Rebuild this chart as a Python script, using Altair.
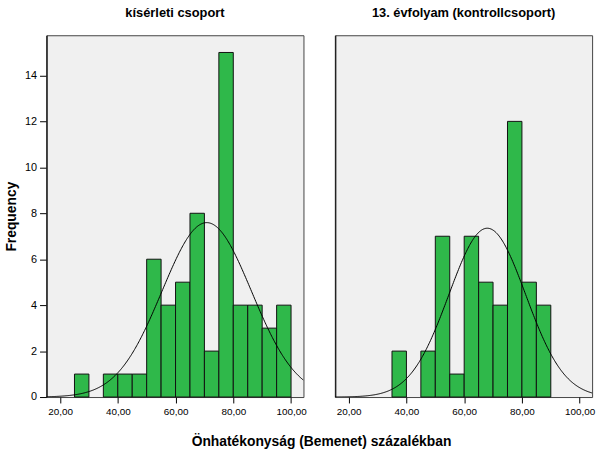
import altair as alt
import pandas as pd

# ---- data ----
bin_width = 5
groups = ["kísérleti csoport", "13. évfolyam (kontrollcsoport)"]

exp_bin_start = [25, 35, 40, 45, 50, 55, 60, 65, 70, 75, 80, 85, 90, 95]
exp_counts    = [1, 1, 1, 1, 6, 4, 5, 8, 2, 15, 4, 4, 3, 4]

ctl_bin_start = [35, 45, 50, 55, 60, 65, 70, 75, 80, 85]
ctl_counts    = [2, 2, 7, 1, 7, 5, 4, 12, 5, 4]

# fitted normal curve parameters
exp_mean, exp_sd = 70.8, 15.5
ctl_mean, ctl_sd = 68.0, 13.3

x_ticks = [20, 40, 60, 80, 100]
y_ticks = [0, 2, 4, 6, 8, 10, 12, 14]
x_domain = [15.3, 104.3]
y_domain = [0, 15.75]

FONT = "Liberation Sans"
GREEN = "#2fb84a"
W, H = 260, 366


def panel(title, starts, counts, mean, sd, show_y):
    n = sum(counts)
    df = pd.DataFrame({"start": starts, "count": counts})
    df["end"] = df["start"] + bin_width

    xscale = alt.Scale(domain=x_domain, nice=False, zero=False)
    yscale = alt.Scale(domain=y_domain, nice=False)
    xaxis = alt.Axis(values=x_ticks, title=None, grid=False,
                     labelExpr="replace(format(datum.value, '.2f'), '.', ',')",
                     labelFont=FONT, labelFontSize=10, labelColor="#000",
                     tickSize=6, tickColor="#000", domain=False, labelPadding=4)
    if show_y:
        yaxis = alt.Axis(values=y_ticks, title="Frequency", grid=False,
                         labelFont=FONT, labelFontSize=11, labelColor="#000",
                         tickSize=7, tickColor="#000", domain=True, domainColor="#222",
                         domainWidth=1.5, labelPadding=3,
                         titleFont=FONT, titleFontSize=14, titleFontWeight="bold",
                         titleColor="#000", titlePadding=6)
    else:
        yaxis = alt.Axis(values=y_ticks, title=None, grid=False, labels=False,
                         ticks=False, domain=True, domainColor="#222", domainWidth=1.5)

    bars = alt.Chart(df).mark_rect(color=GREEN, stroke="#111", strokeWidth=1).encode(
        x=alt.X("start:Q", scale=xscale, axis=xaxis),
        x2="end:Q",
        y=alt.Y("count:Q", scale=yscale, axis=yaxis),
        y2=alt.datum(0),
    )

    curve = alt.Chart(alt.sequence(x_domain[0], x_domain[1] + 0.01, 0.25, as_="x")).transform_calculate(
        y=f"{n}*{bin_width}*exp(-0.5*pow((datum.x-{mean})/{sd},2))/({sd}*sqrt(2*PI))"
    ).mark_line(color="#000", strokeWidth=1, clip=True).encode(
        x=alt.X("x:Q", scale=xscale),
        y=alt.Y("y:Q", scale=yscale),
    )

    return alt.layer(bars, curve).properties(
        width=W, height=H,
        title=alt.TitleParams(title, font=FONT, fontSize=13, fontWeight="bold",
                              color="#000", offset=15, anchor="middle"),
    )


left = panel(groups[0], exp_bin_start, exp_counts, exp_mean, exp_sd, True)
right = panel(groups[1], ctl_bin_start, ctl_counts, ctl_mean, ctl_sd, False)

chart = alt.hconcat(left, right, spacing=27).properties(
    title=alt.TitleParams("Önhatékonyság (Bemenet) százalékban", orient="bottom",
                          anchor="middle", font=FONT, fontSize=14, fontWeight="bold",
                          color="#000", offset=18, dx=22),
    padding={"left": 4, "top": 4, "right": 5, "bottom": 5},
    background="white",
).configure_view(
    fill="#f0f0f0", stroke="#444", strokeWidth=1
)

chart.save("out.html", embed_options={"renderer": "svg", "actions": False})
